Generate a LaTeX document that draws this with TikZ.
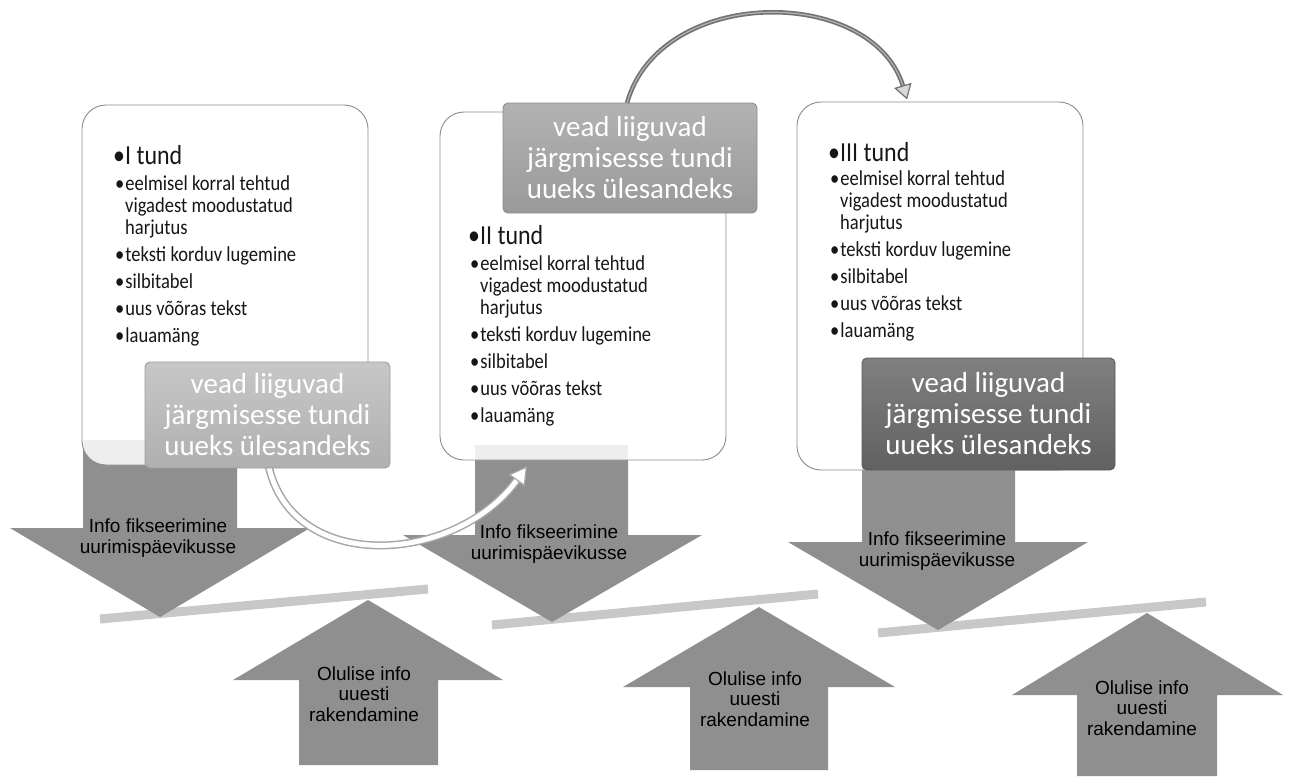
\documentclass[tikz,border=0pt]{standalone}
\usepackage{fontspec}
\setmainfont{Carlito}
\newfontfamily\arialfont{Liberation Sans}
\newfontfamily\listfont[FakeStretch=0.87]{Carlito}
\usetikzlibrary{calc}
\definecolor{arrowgray}{HTML}{8F8F8F}
\definecolor{bargray}{HTML}{C8C8C8}
\definecolor{boxline}{HTML}{8C8C8C}
\definecolor{txtdark}{HTML}{161616}
\definecolor{curveout}{HTML}{A6A6A6}
\definecolor{curvetop}{HTML}{727272}
\newcommand{\lessonitems}{%
  \parindent=0pt\parskip=5.4pt\spaceskip=0.2em plus 0.05em
  \hangindent=10pt\hangafter=1
  •\kern1pt eelmisel korral tehtud\hfil\break vigadest moodustatud\hfil\break harjutus\par
  •\kern1pt teksti korduv lugemine\par
  •\kern1pt silbitabel\par
  •\kern1pt uus võõras tekst\par
  •\kern1pt lauamäng}
\newcommand{\movetext}{vead liiguvad\\järgmisesse tundi\\uueks ülesandeks}
\begin{document}
\begin{tikzpicture}[x=1pt,y=-1pt,
  lessonbox/.style={draw=boxline, line width=0.9pt, fill=white, fill opacity=0.85, rounded corners=24pt, inner sep=0pt},
  movebox/.style={rounded corners=5pt, line width=0.9pt, inner sep=0pt, align=center, text=white,
    font=\fontsize{29}{31}\selectfont},
  arrowshape/.style={fill=arrowgray, draw=none},
  arrowtext/.style={align=center, inner sep=0pt, text=black, font=\arialfont\fontsize{19}{20.5}\selectfont},
  bar/.style={draw=bargray, line width=9pt},
  headtext/.style={anchor=west, inner sep=0pt, text=txtdark, font=\listfont\fontsize{27.5}{29}\selectfont},
  itemtext/.style={anchor=north west, inner sep=0pt, text width=250pt, align=left, text=txtdark,
    font=\listfont\fontsize{21.3}{21.7}\selectfont},
]
\useasboundingbox (0,0) rectangle (1289,776);
\fill[white] (0,0) rectangle (1289,776);

% slanted bars
\coordinate (b1l) at (100,619); \coordinate (b1r) at (428,589);
\coordinate (b2l) at (492,625); \coordinate (b2r) at (818,594);
\coordinate (b3l) at (878,633); \coordinate (b3r) at (1206,602);
\draw[bar] (b1l) -- (b1r);
\draw[bar] (b2l) -- (b2r);
\draw[bar] (b3l) -- (b3r);

% down arrows
\fill[arrowshape] (83,440) -- (237,440) -- (237,528) -- (310,528) -- (160,617) -- (10,528) -- (83,528) -- cycle;
\fill[arrowshape] (475,445) -- (628,445) -- (628,535) -- (702,535) -- (552,622) -- (403,535) -- (475,535) -- cycle;
\fill[arrowshape] (862,460) -- (1015,460) -- (1015,542) -- (1088,542) -- (938,630) -- (788,542) -- (862,542) -- cycle;

% up arrows
\fill[arrowshape] (368,600) -- (503,680) -- (438,680) -- (438,765) -- (299,765) -- (299,680) -- (233,680) -- cycle;
\fill[arrowshape] (759,607) -- (895,687) -- (828,687) -- (828,770) -- (690,770) -- (690,687) -- (623,687) -- cycle;
\fill[arrowshape] (1147,613) -- (1283,695) -- (1217,695) -- (1217,776) -- (1077,776) -- (1077,695) -- (1012,695) -- cycle;

% arrow texts
\node[arrowtext] (d1t) at (158,538) {Info fikseerimine\\uurimispäevikusse};
\node[arrowtext] (d2t) at (549,544) {Info fikseerimine\\uurimispäevikusse};
\node[arrowtext] (d3t) at (937,551) {Info fikseerimine\\uurimispäevikusse};
\node[arrowtext] (u1t) at (364,694) {Olulise info\\uuesti\\rakendamine};
\node[arrowtext] (u2t) at (755,699) {Olulise info\\uuesti\\rakendamine};
\node[arrowtext] (u3t) at (1142,708) {Olulise info\\uuesti\\rakendamine};

% lesson boxes
\node[lessonbox, minimum width=286pt, minimum height=360pt] (l1) at (225,285) {};
\node[lessonbox, minimum width=286pt, minimum height=348pt] (l2) at (583,286) {};
\node[lessonbox, minimum width=286pt, minimum height=368pt] (l3) at (940,286) {};

% lesson texts
\node[headtext] (h1) at (113,155) {•I tund};
\node[itemtext] (i1) at (115,176) {\lessonitems};
\node[headtext] (h2) at (468,235) {•II tund};
\node[itemtext] (i2) at (470,256) {\lessonitems};
\node[headtext] (h3) at (828,152) {•III tund};
\node[itemtext] (i3) at (830,171) {\lessonitems};

% curved arrow 1 (bottom)
\coordinate (c1s) at (268,463);
\coordinate (c1e) at (517,480);
\draw[curveout, line width=8pt] (c1s) .. controls (290,575) and (455,565) .. (c1e);
\draw[white, line width=5pt] (c1s) .. controls (290,575) and (455,565) .. (c1e);
\filldraw[fill=white, draw=curveout, line width=1.2pt] (526.4,467.1) -- (524.3,485.3) -- (509.7,474.7) -- cycle;

% moving boxes
\node[movebox, top color=black!22, bottom color=black!31, draw=black!38, minimum width=245pt, minimum height=106pt] (g1) at (267.5,415) {\movetext};
\node[movebox, top color=black!30, bottom color=black!40, draw=black!45, minimum width=254pt, minimum height=110pt] (g2) at (630,158) {\movetext};
\node[movebox, top color=black!50, bottom color=black!62, draw=black!65, minimum width=253pt, minimum height=112pt] (g3) at (988.5,414) {\movetext};

% curved arrow 2 (top)
\coordinate (c2s) at (627,103);
\coordinate (c2e) at (903,86);
\draw[curvetop, line width=4.5pt] (c2s) .. controls (660,-15) and (872,-15) .. (c2e);
\draw[black!30, line width=1.2pt] (c2s) .. controls (660,-15) and (872,-15) .. (c2e);
\filldraw[fill=black!15, draw=curvetop, line width=1.2pt] (906.8,98.4) -- (910.7,83.7) -- (895.3,88.3) -- cycle;
\end{tikzpicture}
\end{document}
